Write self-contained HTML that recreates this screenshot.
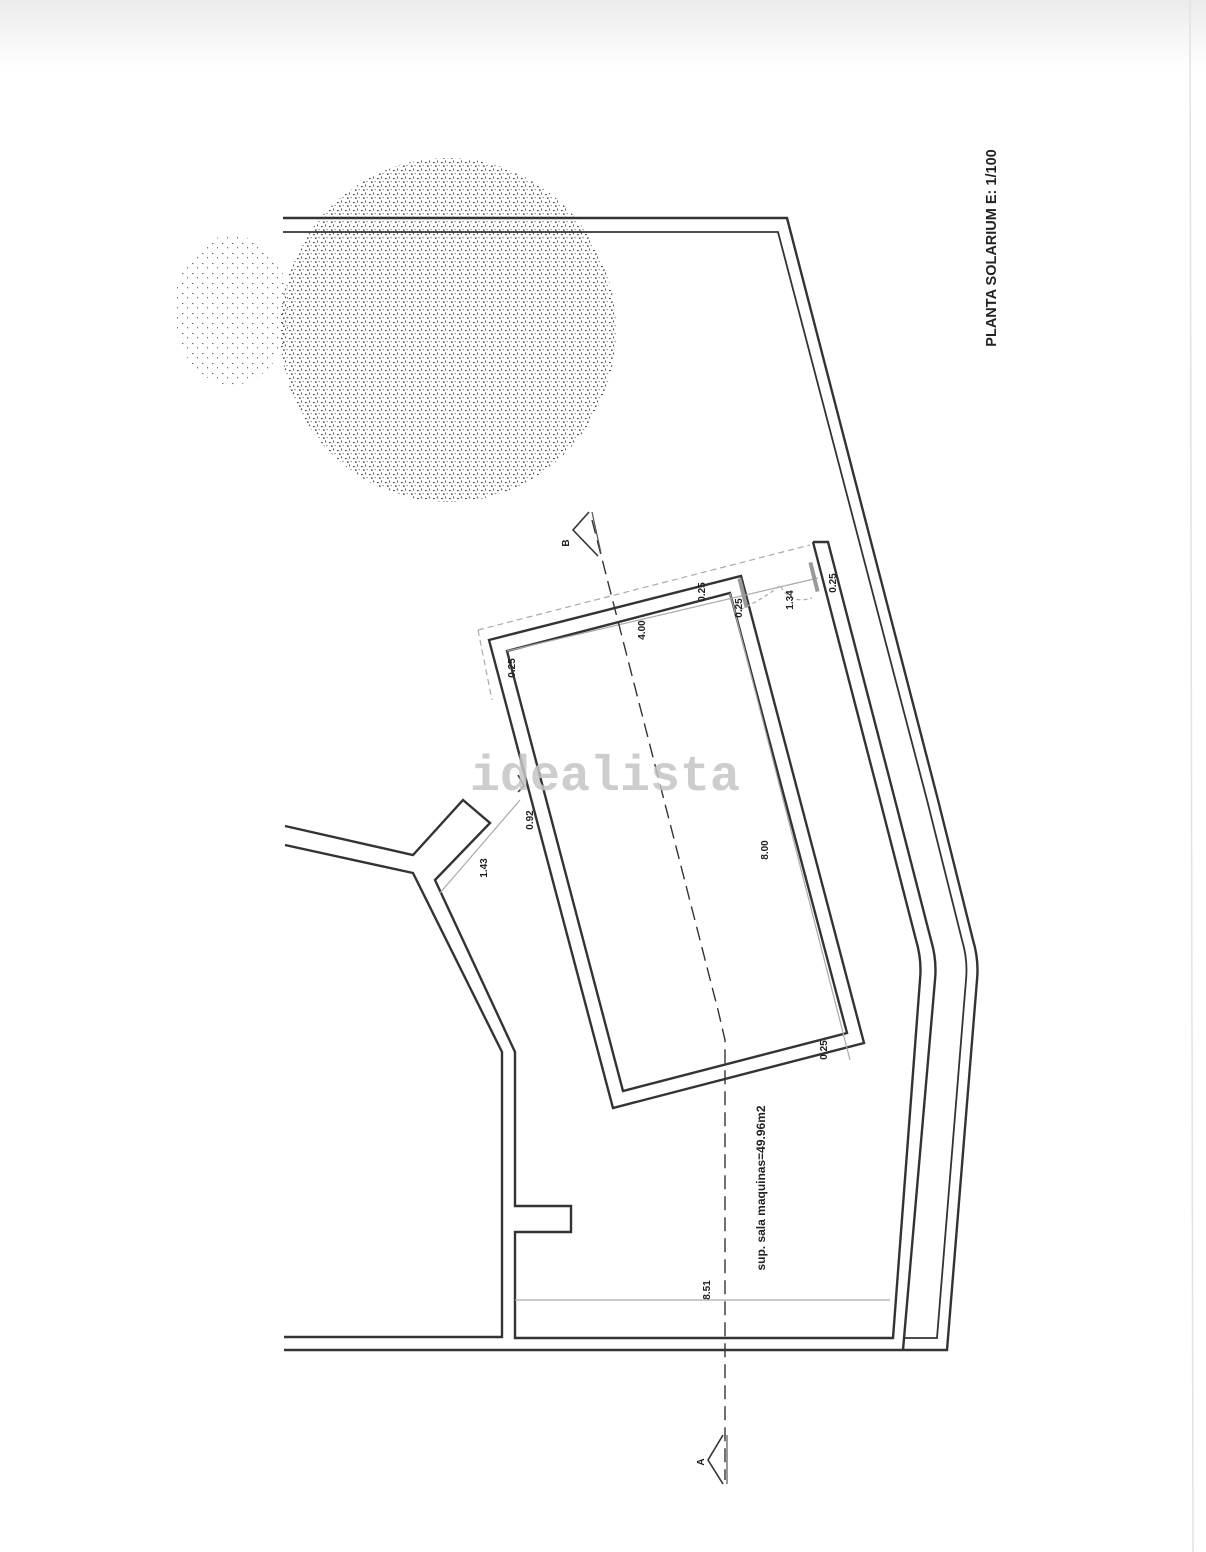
<!DOCTYPE html>
<html><head><meta charset="utf-8"><style>
html,body{margin:0;padding:0;background:#fff;}
svg{display:block;}
</style></head><body>
<svg width="1206" height="1552" viewBox="0 0 1206 1552" xmlns="http://www.w3.org/2000/svg" font-family="Liberation Sans, sans-serif">
<defs>
<linearGradient id="top" x1="0" y1="0" x2="0" y2="1">
<stop offset="0" stop-color="#ebebeb"/><stop offset="1" stop-color="#ffffff"/>
</linearGradient>
<pattern id="dots" width="8" height="8" patternUnits="userSpaceOnUse">
<rect x="1" y="2" width="1.8" height="1.1" fill="#444"/>
<rect x="5" y="0.5" width="1.1" height="1.8" fill="#555"/>
<rect x="3" y="5.5" width="1.6" height="1.3" fill="#333"/>
<rect x="6.5" y="5" width="1.1" height="1.1" fill="#666"/>
</pattern>
<pattern id="dots2" width="10" height="10" patternUnits="userSpaceOnUse">
<rect x="2" y="3" width="1.4" height="1.1" fill="#666"/>
<rect x="7" y="7" width="1.1" height="1.4" fill="#777"/>
</pattern>
</defs>
<rect width="1206" height="1552" fill="#fff"/>
<rect width="1206" height="70" fill="url(#top)"/>
<line x1="1190" y1="0" x2="1193" y2="1552" stroke="#e2e2e2" stroke-width="1.5"/>

<!-- trees -->
<ellipse cx="232" cy="310" rx="58" ry="75" fill="url(#dots2)"/>
<ellipse cx="448" cy="330" rx="168" ry="172" fill="url(#dots)"/>

<g fill="none" stroke="#333" stroke-width="2.4" stroke-linejoin="miter">
<path d="M283 218 L787 218 L938 800 L973 940 Q979 960 977 980 L947 1350 L284 1350"/>
<path d="M283 232 L778 232 L927 800 L962 940 Q968 960 966 980 L937 1338 L903 1338" stroke-width="1.8"/>
<path d="M813 542 L828 542 L895 800 L931 940 Q937 960 935 980 L903 1350"/>
<path d="M813 542 L880 800 L916 940 Q922 960 920 980 L893 1338 L515 1338 L515 1232 L571 1232 L571 1206 L515 1206 L515 1052 L435 880 L490 823 L463 800 L413 855 L285 826"/>
<path d="M285 845 L413 873 L502 1052 L502 1337 L284 1337"/>
<path d="M489 640 L741 576 L864 1043 L613 1108 Z"/>
<path d="M507 651 L730 593 L847 1033 L623 1091 Z"/>
</g>
<path d="M518 775 L524 786 L518 792" fill="none" stroke="#333" stroke-width="1.5"/>

<g fill="none" stroke="#aaa" stroke-width="1.2">
<path d="M478 630 L810 545" stroke-dasharray="6 4"/>
<path d="M478 630 L492 700" stroke-dasharray="6 4"/>
<path d="M507 651 L818 578"/>
<path d="M730 593 L850 1060"/>
<path d="M515 1300 L890 1300"/>
<path d="M440 893 L520 800"/>
<path d="M740 610 Q770 595 780 585 Q790 605 812 598" stroke-dasharray="4 3"/>
</g>
<g fill="#999" stroke="none">
<rect x="741" y="578" width="4" height="30" transform="rotate(-14 743 593)"/>
<rect x="812" y="562" width="4" height="30" transform="rotate(-14 814 577)"/>
</g>

<path d="M592 520 L718 1010 L725 1040 L725 1480" fill="none" stroke="#333" stroke-width="1.4" stroke-dasharray="14 7"/>
<path d="M723 1435 L708 1460 L723 1484" fill="none" stroke="#333" stroke-width="1.6"/>
<line x1="727" y1="1435" x2="727" y2="1484" stroke="#555" stroke-width="1.2"/>
<path d="M589 512 L573 530 L598 556" fill="none" stroke="#333" stroke-width="1.6"/>
<line x1="592" y1="512" x2="601" y2="553" stroke="#555" stroke-width="1.2"/>

<g fill="#222" font-weight="bold" font-size="10">
<text transform="translate(704,1462) rotate(-90)" text-anchor="middle">A</text>
<text transform="translate(569,543) rotate(-90)" text-anchor="middle">B</text>
<text transform="translate(645,630) rotate(-90)" text-anchor="middle">4.00</text>
<text transform="translate(768,850) rotate(-90)" text-anchor="middle">8.00</text>
<text transform="translate(533,820) rotate(-90)" text-anchor="middle">0.92</text>
<text transform="translate(487,868) rotate(-90)" text-anchor="middle">1.43</text>
<text transform="translate(793,600) rotate(-90)" text-anchor="middle">1.34</text>
<text transform="translate(710,1290) rotate(-90)" text-anchor="middle">8.51</text>
<text transform="translate(705,592) rotate(-90)" text-anchor="middle">0.25</text>
<text transform="translate(515,668) rotate(-90)" text-anchor="middle">0.25</text>
<text transform="translate(742,608) rotate(-90)" text-anchor="middle">0.25</text>
<text transform="translate(836,583) rotate(-90)" text-anchor="middle">0.25</text>
<text transform="translate(827,1050) rotate(-90)" text-anchor="middle">0.25</text>
<text transform="translate(765,1188) rotate(-90)" text-anchor="middle" font-size="12">sup. sala maquinas=49.96m2</text>
<text transform="translate(996,248) rotate(-90)" text-anchor="middle" font-size="14.5">PLANTA SOLARIUM E: 1/100</text>
</g>

<text x="605" y="790" text-anchor="middle" font-family="Liberation Mono, monospace" font-weight="bold" font-size="50" fill="#c4c4c4" fill-opacity="0.85">idealista</text>
</svg>
</body></html>
